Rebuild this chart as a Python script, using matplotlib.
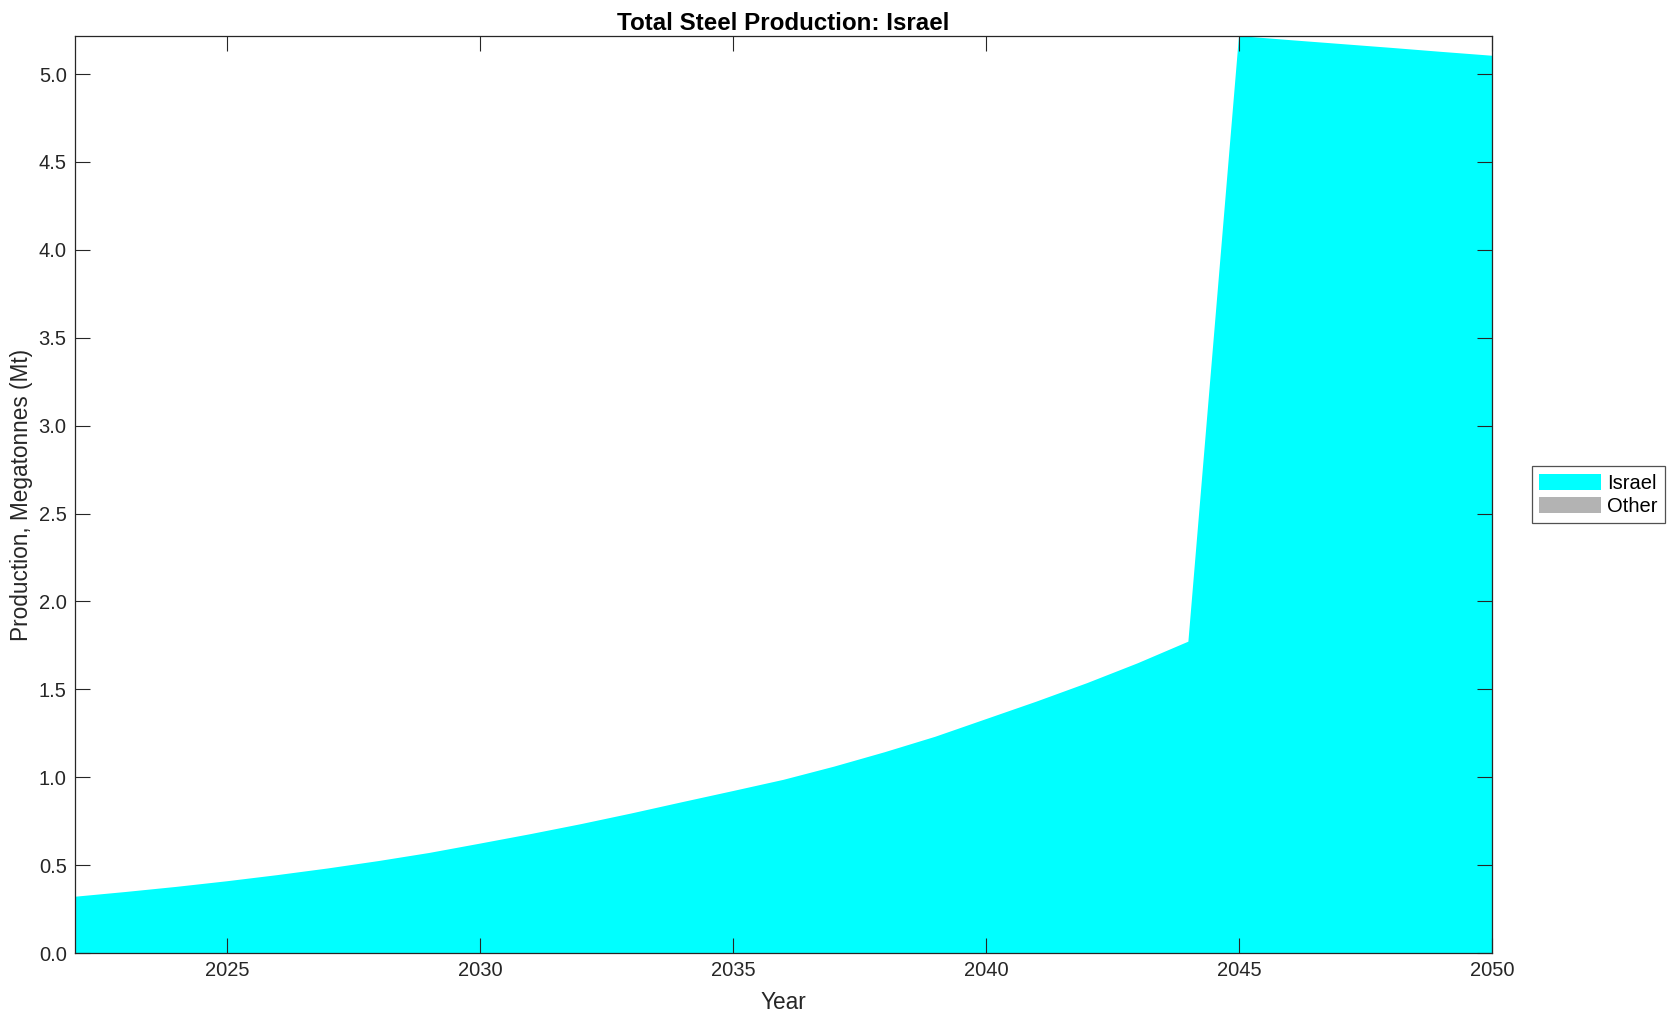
import numpy as np
import matplotlib.pyplot as plt

years = list(range(2022, 2051))
israel = [0.320, 0.347, 0.376, 0.408, 0.443, 0.481, 0.523, 0.569, 0.622, 0.676,
          0.733, 0.794, 0.858, 0.921, 0.985, 1.060, 1.142, 1.230, 1.330, 1.430,
          1.535, 1.648, 1.771, 5.216, 5.193, 5.171, 5.149, 5.126, 5.104]
other = [0.0] * len(years)
series_names = ['Israel', 'Other']
series_colors = ['#00ffff', '#b3b3b3']

plt.rcParams['font.family'] = ['Liberation Sans', 'DejaVu Sans']
plt.rcParams['font.size'] = 14.5
ink = '#262626'

fig = plt.figure(figsize=(16.77, 10.21), dpi=100)
ax = fig.add_axes([0.0447, 0.0666, 0.8450, 0.8981])

ax.stackplot(years, israel, other, colors=series_colors, labels=series_names, linewidth=0)

total = np.array(israel) + np.array(other)
ax.set_xlim(years[0], years[-1])
ax.set_ylim(0, total.max())
ax.set_xticks(range(2025, 2051, 5))
ax.set_yticks(np.arange(0, 5.01, 0.5))
ax.yaxis.set_major_formatter(plt.FormatStrFormatter('%.1f'))

ax.tick_params(direction='in', length=10.5, width=0.8, color=ink, labelcolor=ink,
               top=True, right=True, pad=6)
for s in ax.spines.values():
    s.set_color(ink)
    s.set_linewidth(0.9)

ax.set_title('Total Steel Production: Israel', fontweight='bold', color='black', pad=4)
ax.set_xlabel('Year', color=ink, labelpad=8, fontsize=16.3)
ax.set_ylabel('Production, Megatonnes (Mt)', color=ink, labelpad=4, fontsize=16.3)

leg = ax.legend(loc='center left', bbox_to_anchor=(1.028, 0.5), frameon=True, fancybox=False,
                edgecolor=ink, handlelength=3.1, handleheight=0.85, borderpad=0.35,
                labelspacing=0.2, handletextpad=0.3, borderaxespad=0, fontsize=14.5)
leg.get_frame().set_linewidth(0.9)

fig.savefig('out.png', dpi=100)
